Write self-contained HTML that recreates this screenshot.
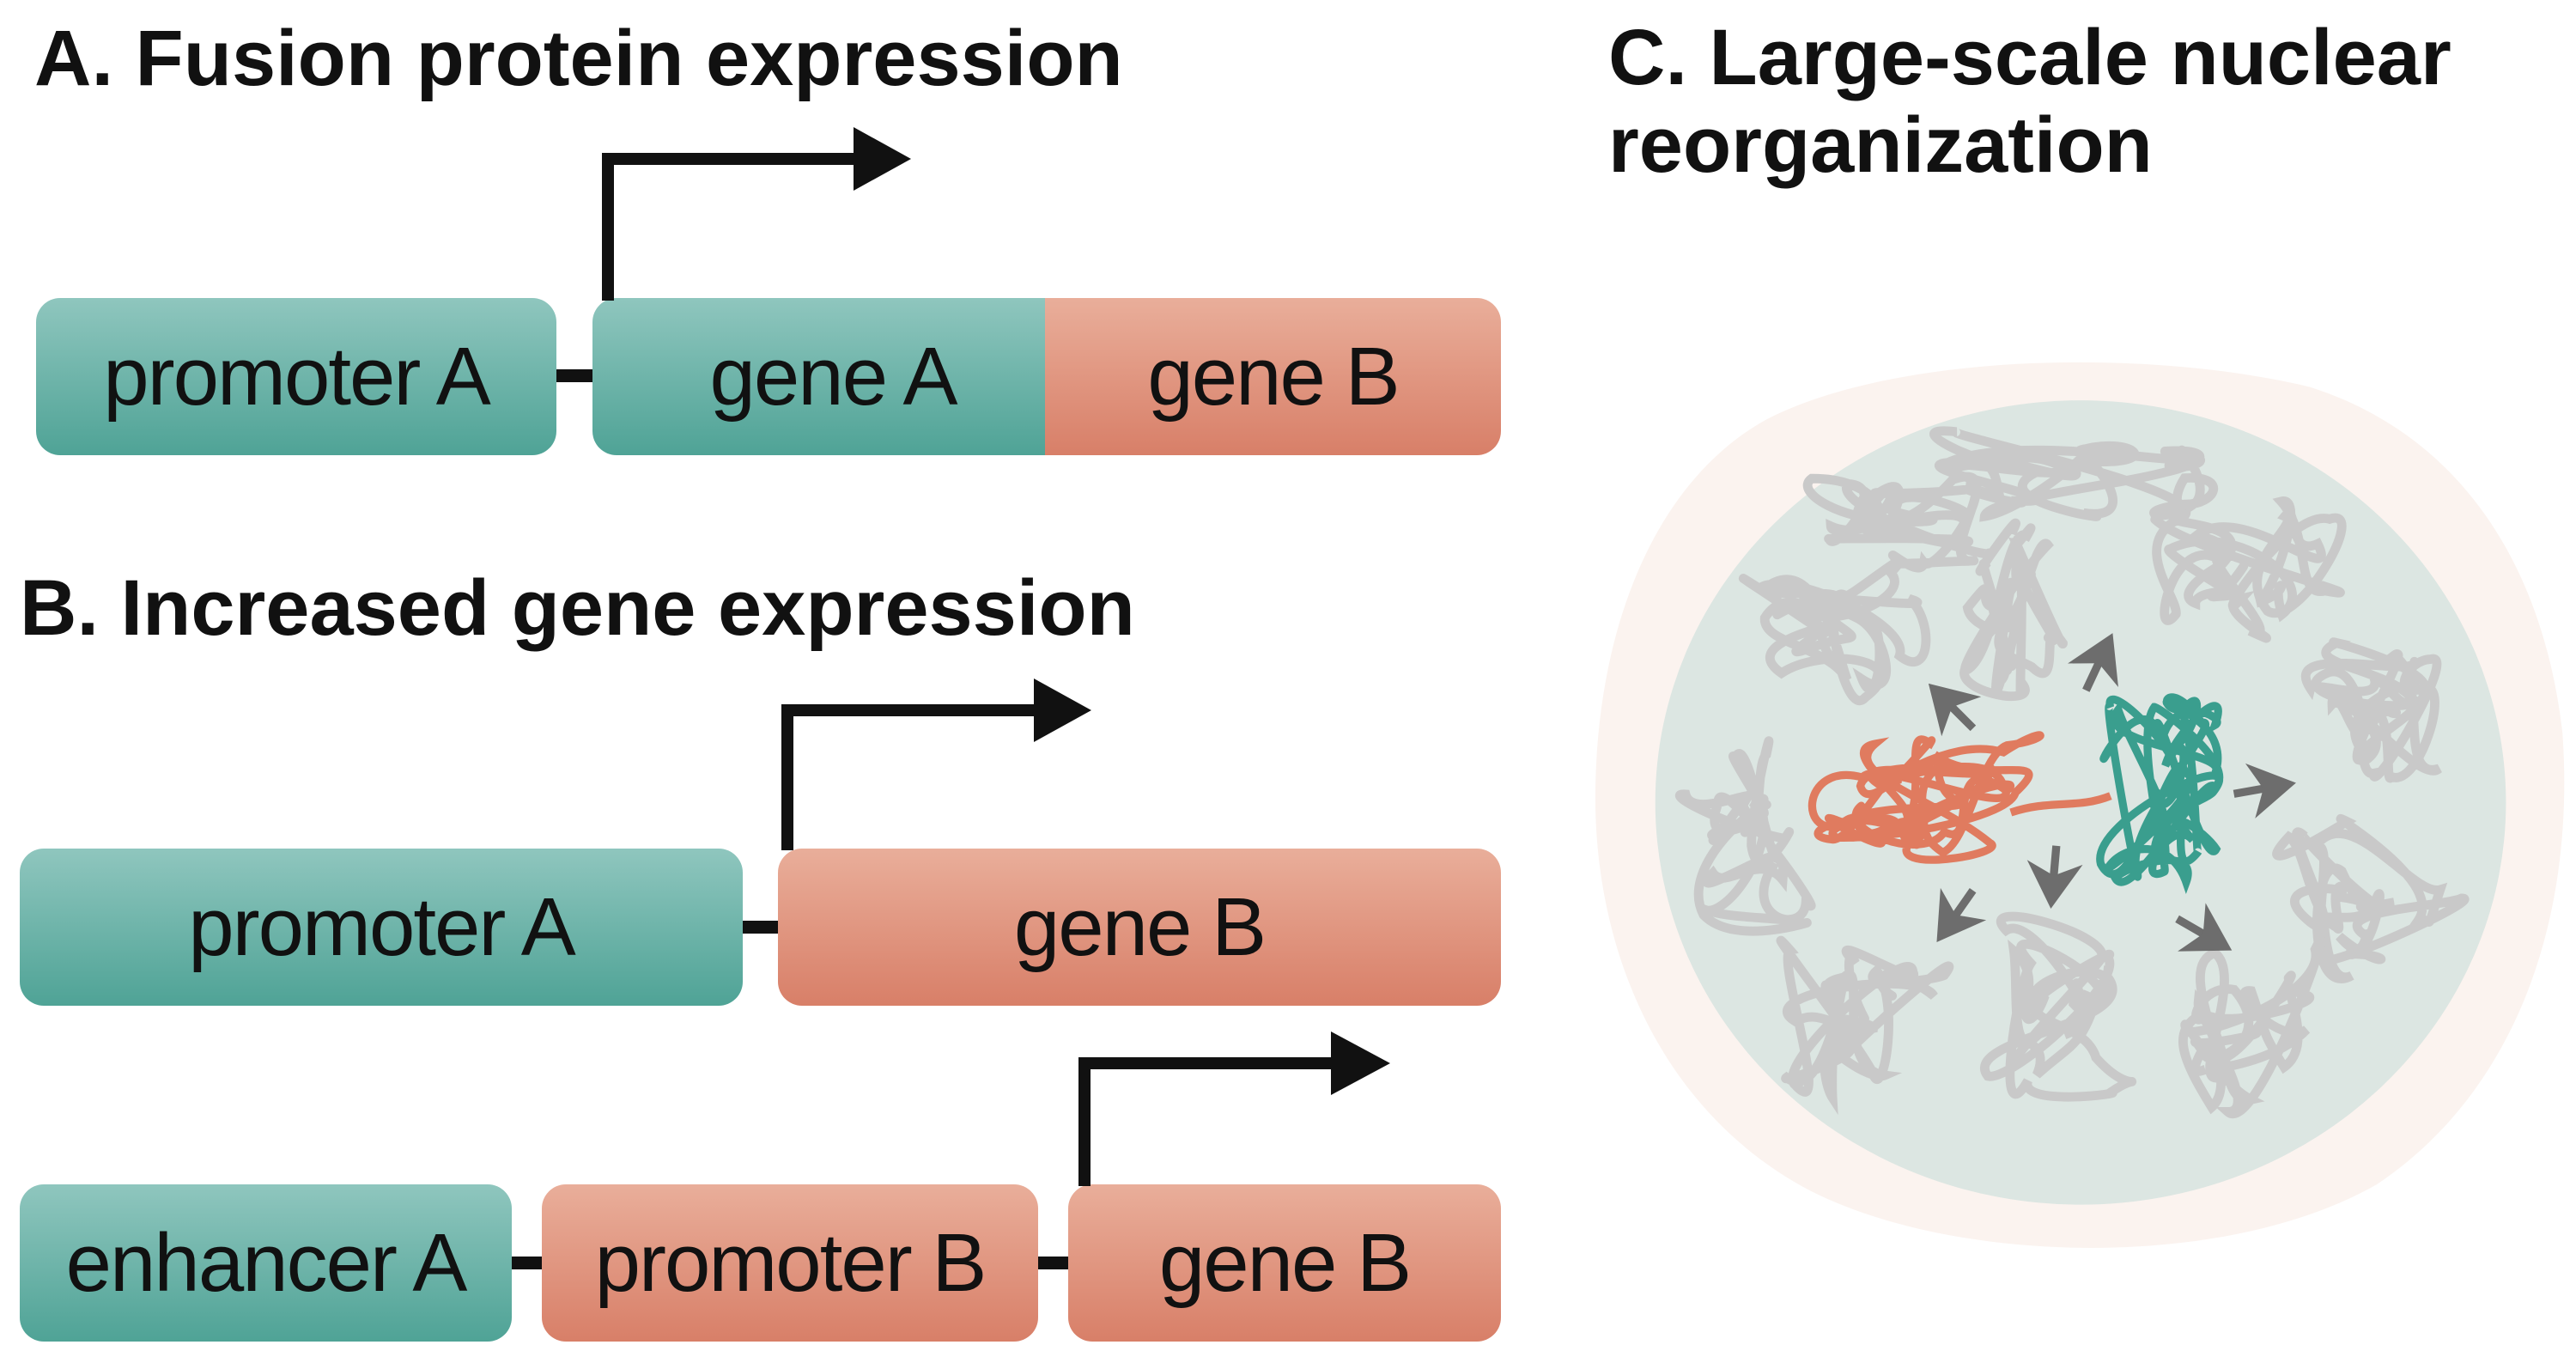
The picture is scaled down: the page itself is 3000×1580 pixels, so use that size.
<!DOCTYPE html>
<html><head><meta charset="utf-8"><style>
body{margin:0;width:3000px;height:1580px;background:#fff;position:relative;overflow:hidden;font-family:"Liberation Sans",Arial,sans-serif}
.t{position:absolute;font-weight:bold;font-size:92px;color:#111;white-space:nowrap;line-height:1}
.b{position:absolute;height:183px;border-radius:28px;display:flex;align-items:center;justify-content:center;font-size:96px;color:#111;letter-spacing:-2px}
.g{background:linear-gradient(#8fc6be,#4fa396)}
.s{background:linear-gradient(#e9ae9a,#d87f68)}
.c{position:absolute;height:15px;background:#111}
</style></head><body>
<div class="t" style="left:40px;top:22px">A. Fusion protein expression</div>
<div class="t" style="left:23px;top:662px">B. Increased gene expression</div>
<div class="t" style="left:1873px;top:16px;line-height:102px">C. Large-scale nuclear<br>reorganization</div>

<div class="b g" style="left:42px;top:347px;width:606px">promoter A</div>
<div class="c" style="left:648px;top:430px;width:44px"></div>
<div class="b g" style="left:690px;top:347px;width:560px;border-radius:28px 0 0 28px">gene A</div>
<div class="b s" style="left:1217px;top:347px;width:531px;border-radius:0 28px 28px 0">gene B</div>

<div class="b g" style="left:23px;top:988px;width:842px">promoter A</div>
<div class="c" style="left:865px;top:1072px;width:43px"></div>
<div class="b s" style="left:906px;top:988px;width:842px">gene B</div>

<div class="b g" style="left:23px;top:1379px;width:573px">enhancer A</div>
<div class="c" style="left:596px;top:1463px;width:37px"></div>
<div class="b s" style="left:631px;top:1379px;width:578px">promoter B</div>
<div class="c" style="left:1209px;top:1463px;width:37px"></div>
<div class="b s" style="left:1244px;top:1379px;width:504px">gene B</div>

<svg width="3000" height="1580" style="position:absolute;left:0;top:0">
<g fill="none" stroke="#111" stroke-width="14">
<path d="M708 350V185H998"/><path d="M917 990V827H1208"/><path d="M1263 1381V1238H1554"/>
</g>
<g fill="#111">
<polygon points="994,148 1061,185 994,222"/><polygon points="1204,790 1271,827 1204,864"/><polygon points="1550,1201 1619,1238 1550,1275"/>
</g>
<g transform="translate(1800,350) scale(0.774)" id="nuc">
<path d="M330 180 C520 80 900 70 1150 130 C1370 200 1500 390 1530 650 C1550 930 1460 1190 1250 1330 C1020 1460 620 1450 400 1340 C170 1220 70 970 75 730 C80 480 170 270 330 180Z" fill="#fbf3ef"/>
<ellipse cx="805" cy="755" rx="640" ry="605" fill="#dce6e2"/>
</g>
</svg>
<script>
var g=document.getElementById('nuc');var NS='http://www.w3.org/2000/svg';
var seed=11;function r(){seed=(seed*16807)%2147483647;return seed/2147483647;}
function blob(cx,cy,rx,ry,col,n,w){var x=cx,y=cy,p='M'+cx+' '+cy;for(var i=0;i<n;i++){var nx=cx+(r()*2-1)*rx,ny=cy+(r()*2-1)*ry;var c1x=x+(r()*2-1)*rx*0.7,c1y=y+(r()*2-1)*ry*0.7;var c2x=nx+(r()*2-1)*rx*0.5,c2y=ny+(r()*2-1)*ry*0.5;p+=' C'+c1x.toFixed(1)+' '+c1y.toFixed(1)+' '+c2x.toFixed(1)+' '+c2y.toFixed(1)+' '+nx.toFixed(1)+' '+ny.toFixed(1);x=nx;y=ny;}
var e=document.createElementNS(NS,'path');e.setAttribute('d',p);e.setAttribute('fill','none');e.setAttribute('stroke',col);e.setAttribute('stroke-width',w);e.setAttribute('stroke-linecap','round');g.appendChild(e);}
var gr=[[790,260,190,70],[540,330,140,65],[700,470,80,120],[420,500,130,100],[1050,400,160,110],[1260,620,120,120],[300,800,100,140],[1250,900,140,120],[480,1080,120,120],[760,1080,110,150],[1060,1100,110,130]];
gr.forEach(function(a){blob(a[0],a[1],a[2],a[3],'#c9c9c9',20,14);});
blob(570,760,150,100,'#e07b5f',30,12);
blob(920,740,90,140,'#3a9e8e',28,12);
var e=document.createElementNS(NS,'path');e.setAttribute('d','M700 770 C760 750 800 765 850 745');e.setAttribute('stroke','#e07b5f');e.setAttribute('stroke-width',12);e.setAttribute('fill','none');g.appendChild(e);
var ar=[[615,615,-135],[830,550,-65],[1075,735,-10],[765,860,95],[620,920,125],[985,950,30]];
ar.forEach(function(a){var gg=document.createElementNS(NS,'g');gg.setAttribute('transform','translate('+a[0]+' '+a[1]+') rotate('+a[2]+')');gg.innerHTML='<line x1="-40" y1="0" x2="10" y2="0" stroke="#6d6d6d" stroke-width="12"/><polygon points="-15,-42 55,0 -15,42 5,0" fill="#6d6d6d"/>';g.appendChild(gg);});
</script>
</body></html>
